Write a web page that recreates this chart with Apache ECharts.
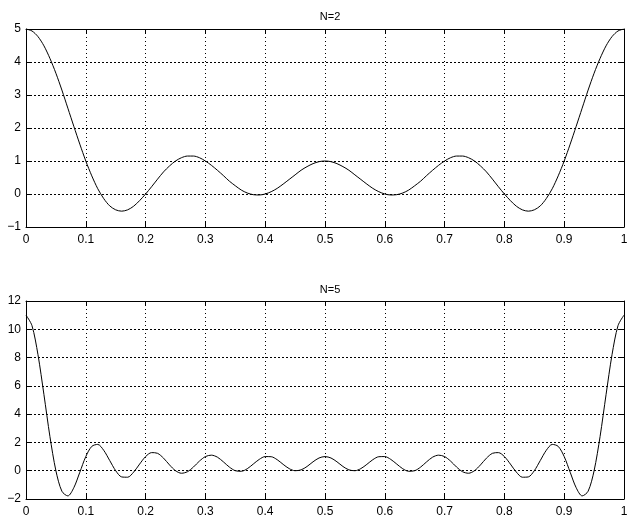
<!DOCTYPE html>
<html><head><meta charset="utf-8">
<script src="https://cdn.jsdelivr.net/npm/echarts@6/dist/echarts.min.js"></script>
<style>html,body{margin:0;padding:0;background:#fff}#c{width:634px;height:523px}</style>
</head><body><div id="c"></div>
<script>
var titles = ['N=2', 'N=5'];
var xTicks = [0, 0.1, 0.2, 0.3, 0.4, 0.5, 0.6, 0.7, 0.8, 0.9, 1];
var yRange1 = {min: -1, max: 5, interval: 1};
var yRange2 = {min: -2, max: 12, interval: 2};
var stepN2 = 0.01;
var stepN5 = 0.01;
var yN2 = [5, 4.94, 4.77, 4.49, 4.11, 3.66, 3.15, 2.60, 2.05, 1.51,
  1.00, 0.55, 0.16, -0.14, -0.36, -0.48, -0.52, -0.48, -0.37, -0.20,
  0.00, 0.22, 0.45, 0.67, 0.85, 1.00, 1.10, 1.15, 1.15, 1.10,
  1.00, 0.87, 0.72, 0.56, 0.39, 0.25, 0.12, 0.03, -0.02, -0.03,
  0.00, 0.07, 0.17, 0.30, 0.44, 0.58, 0.72, 0.83, 0.92, 0.98,
  1.00,
  0.98, 0.92, 0.83, 0.72, 0.58, 0.44, 0.30, 0.17, 0.07, 0.00,
  -0.03, -0.02, 0.03, 0.12, 0.25, 0.39, 0.56, 0.72, 0.87, 1.00,
  1.10, 1.15, 1.15, 1.10, 1.00, 0.85, 0.67, 0.45, 0.22, 0.00,
  -0.20, -0.37, -0.48, -0.52, -0.48, -0.36, -0.14, 0.16, 0.55, 1.00,
  1.51, 2.05, 2.60, 3.15, 3.66, 4.11, 4.49, 4.77, 4.94, 5];
var yN5 = [11, 10.26, 8.21, 5.38, 2.42, 0.00, -1.45, -1.78, -1.20, -0.11,
  1.00, 1.72, 1.86, 1.44, 0.72, 0.00, -0.44, -0.46, -0.10, 0.47,
  1.00, 1.28, 1.23, 0.89, 0.41, 0.00, -0.18, -0.07, 0.26, 0.68,
  1.00, 1.10, 0.96, 0.63, 0.26, 0.00, -0.04, 0.14, 0.47, 0.80,
  1.00, 0.99, 0.78, 0.45, 0.15, 0.00, 0.06, 0.30, 0.63, 0.90,
  1.00,
  0.90, 0.63, 0.30, 0.06, 0.00, 0.15, 0.45, 0.78, 0.99, 1.00,
  0.80, 0.47, 0.14, -0.04, 0.00, 0.26, 0.63, 0.96, 1.10, 1.00,
  0.68, 0.26, -0.07, -0.18, 0.00, 0.41, 0.89, 1.23, 1.28, 1.00,
  0.47, -0.10, -0.46, -0.44, 0.00, 0.72, 1.44, 1.86, 1.72, 1.00,
  -0.11, -1.20, -1.78, -1.45, 0.00, 2.42, 5.38, 8.21, 10.26, 11];

function pairs(ys, step) {
  return ys.map(function (v, i) { return [Math.round(i * step * 1000) / 1000, v]; });
}
var FONT = '"Liberation Sans", Arial, Helvetica, sans-serif';
var lbl = {color: '#000', fontSize: 12, fontFamily: FONT};
function minus(v) { return String(v).replace('-', '\u2212'); }

function xAx(g, pos) {
  return {
    type: 'value', gridIndex: g, position: pos, min: 0, max: 1, interval: 0.1,
    axisLine: {show: true, onZero: false, lineStyle: {color: '#000', width: 1}},
    axisTick: {show: true, inside: true, length: 5, lineStyle: {color: '#000'}},
    axisLabel: pos === 'bottom' ? Object.assign({show: true, margin: 7}, lbl) : {show: false},
    splitLine: pos === 'bottom' ? {show: true, lineStyle: {color: '#000', type: [1, 3], width: 1}} : {show: false}
  };
}
function yAx(g, pos, r) {
  return {
    type: 'value', gridIndex: g, position: pos, min: r.min, max: r.max, interval: r.interval,
    axisLine: {show: true, onZero: false, lineStyle: {color: '#000', width: 1}},
    axisTick: {show: true, inside: true, length: 5, lineStyle: {color: '#000'}},
    axisLabel: pos === 'left' ? Object.assign({show: true, margin: 5, formatter: minus}, lbl) : {show: false},
    splitLine: pos === 'left' ? {show: true, lineStyle: {color: '#000', type: [2, 2], width: 1}} : {show: false}
  };
}

var chart = echarts.init(document.getElementById('c'), null, {renderer: 'canvas'});
chart.setOption({
  animation: false,
  backgroundColor: '#fff',
  title: [
    {text: titles[0], left: 325, top: 6, textAlign: 'center', textStyle: {fontSize: 11, fontWeight: 'normal', color: '#000', fontFamily: FONT}},
    {text: titles[1], left: 325, top: 279, textAlign: 'center', textStyle: {fontSize: 11, fontWeight: 'normal', color: '#000', fontFamily: FONT}}
  ],
  grid: [
    {left: 26, right: 10, top: 29, height: 198},
    {left: 26, right: 10, top: 301, height: 198}
  ],
  xAxis: [xAx(0, 'bottom'), xAx(0, 'top'), xAx(1, 'bottom'), xAx(1, 'top')],
  yAxis: [yAx(0, 'left', yRange1), yAx(0, 'right', yRange1), yAx(1, 'left', yRange2), yAx(1, 'right', yRange2)],
  series: [
    {type: 'line', xAxisIndex: 0, yAxisIndex: 0, data: pairs(yN2, stepN2), smooth: 0.3, showSymbol: false,
     lineStyle: {color: '#000', width: 1}},
    {type: 'line', xAxisIndex: 2, yAxisIndex: 2, data: pairs(yN5, stepN5), smooth: 0.3, showSymbol: false,
     lineStyle: {color: '#000', width: 1}}
  ]
});
</script></body></html>
